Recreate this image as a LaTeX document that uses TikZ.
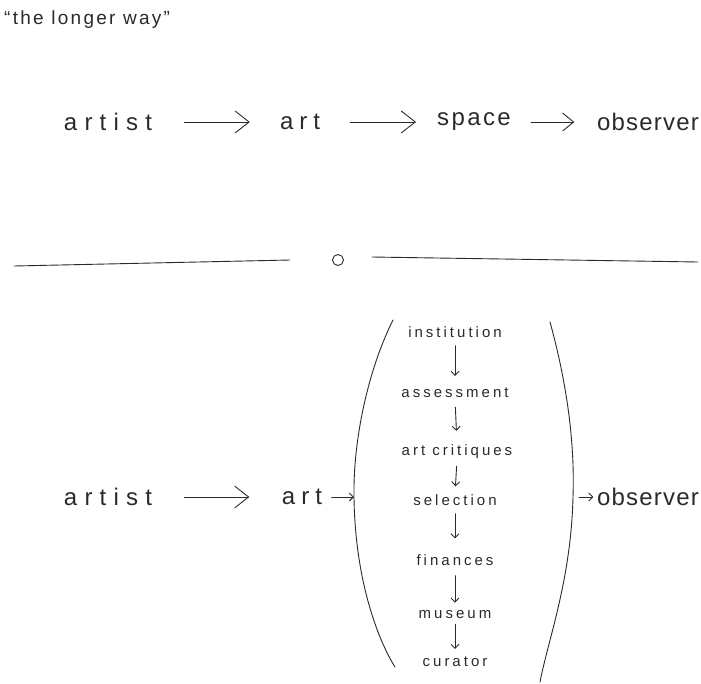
\documentclass[tikz,border=0pt]{standalone}
\usepackage{fontspec}
\setmainfont{Liberation Sans}
\usetikzlibrary{arrows.meta}
\definecolor{ink}{HTML}{2A2A2A}
\tikzset{
  big/.style={font=\fontsize{24}{26}\selectfont, text=ink, inner sep=0pt, anchor=center},
  small/.style={font=\fontsize{15}{17}\selectfont\addfontfeatures{LetterSpace=20}, text=ink, inner sep=0pt, anchor=center},
  pen/.style={draw=ink, line width=0.9pt, line cap=round},
  bigarrow/.style={pen, -{Straight Barb[length=14pt,width=22pt]}},
  midarrow/.style={pen, -{Straight Barb[length=11pt,width=18pt]}},
  smallarrow/.style={pen, -{Straight Barb[length=4pt,width=8pt]}},
}
\newcommand{\wide}[2]{{\addfontfeatures{LetterSpace=#1}#2}}
\begin{document}
\begin{tikzpicture}[x=1pt,y=-1pt]
\useasboundingbox (0,0) rectangle (701,683);

% title
\node[font=\fontsize{19}{21}\selectfont\addfontfeatures{LetterSpace=12}, text=ink, inner sep=0pt, anchor=west] (title) at (4,20) {\textquotedblleft the longer way\textquotedblright};

% first chain
\node[big, minimum width=85pt] (artA) at (108,122) {\wide{30}{artist}};
\node[big, minimum width=46pt] (artB) at (300,122) {\wide{25}{art}};
\node[big, minimum width=72pt] (spaceA) at (474,122) {\wide{10}{space}};
\node[big, minimum width=103pt] (obsA) at (648,122) {\wide{5}{observer}};
\draw[bigarrow, shorten <=32pt, shorten >=27pt] (artA.east) -- (artB.west);
\draw[bigarrow, shorten <=27pt, shorten >=21pt] (artB.east) -- (spaceA.west);
\draw[midarrow, shorten <=20pt, shorten >=22pt] (spaceA.east) -- (obsA.west);

% divider
\coordinate (d1) at (14,266);
\coordinate (d2) at (290,260);
\coordinate (d3) at (372,257);
\coordinate (d4) at (698,262);
\node[circle, draw=ink, line width=0.9pt, inner sep=0pt, minimum size=11pt] (ring) at (338,260) {};
\draw[pen] (d1) -- (d2);
\draw[pen] (d3) -- (d4);

% second chain
\node[big, minimum width=85pt] (artC) at (108,497) {\wide{30}{artist}};
\node[big, minimum width=51pt] (artD) at (302,497) {\wide{25}{art}};
\draw[bigarrow, shorten <=32pt, shorten >=27pt] (artC.east) -- (artD.west);

% brackets around the institutional steps
\coordinate (lp1) at (393,320);
\coordinate (lp2) at (354,497);
\coordinate (lp3) at (395,667);
\coordinate (rp1) at (550,322);
\coordinate (rp2) at (573,497);
\coordinate (rp3) at (540,682);
\draw[pen] (lp1) .. controls (368,370) and (353,440) .. (lp2) .. controls (355,580) and (378,640) .. (lp3);
\draw[pen] (rp1) .. controls (566,380) and (575,440) .. (rp2) .. controls (571,580) and (548,640) .. (rp3);
\draw[smallarrow, shorten <=4pt] (artD.east) -- (lp2);

\node[big, minimum width=105pt] (obsB) at (648,497) {\wide{5}{observer}};
\draw[smallarrow, shorten <=6pt, shorten >=2pt] (rp2) -- (obsB.west);

% institutional steps
\node[small] (s1) at (455,332) {institution};
\node[small] (s2) at (455,393) {assessment};
\node[small] (s3) at (457,452) {art critiques};
\node[small] (s4) at (455,500) {selection};
\node[small] (s5) at (455,560) {finances};
\node[small] (s6) at (455,615) {museum};
\node[small] (s7) at (455,662) {curator};
\draw[smallarrow, shorten <=8pt, shorten >=12pt] (s1.south) -- (s2.north);
\draw[smallarrow, shorten <=9pt, shorten >=14pt] (s2.south) -- (s3.north);
\draw[smallarrow, shorten <=7pt, shorten >=8pt] (s3.south) -- (s4.north);
\draw[smallarrow, shorten <=8pt, shorten >=16pt] (s4.south) -- (s5.north);
\draw[smallarrow, shorten <=10pt, shorten >=8pt] (s5.south) -- (s6.north);
\draw[smallarrow, shorten <=5pt, shorten >=8pt] (s6.south) -- (s7.north);
\end{tikzpicture}
\end{document}
